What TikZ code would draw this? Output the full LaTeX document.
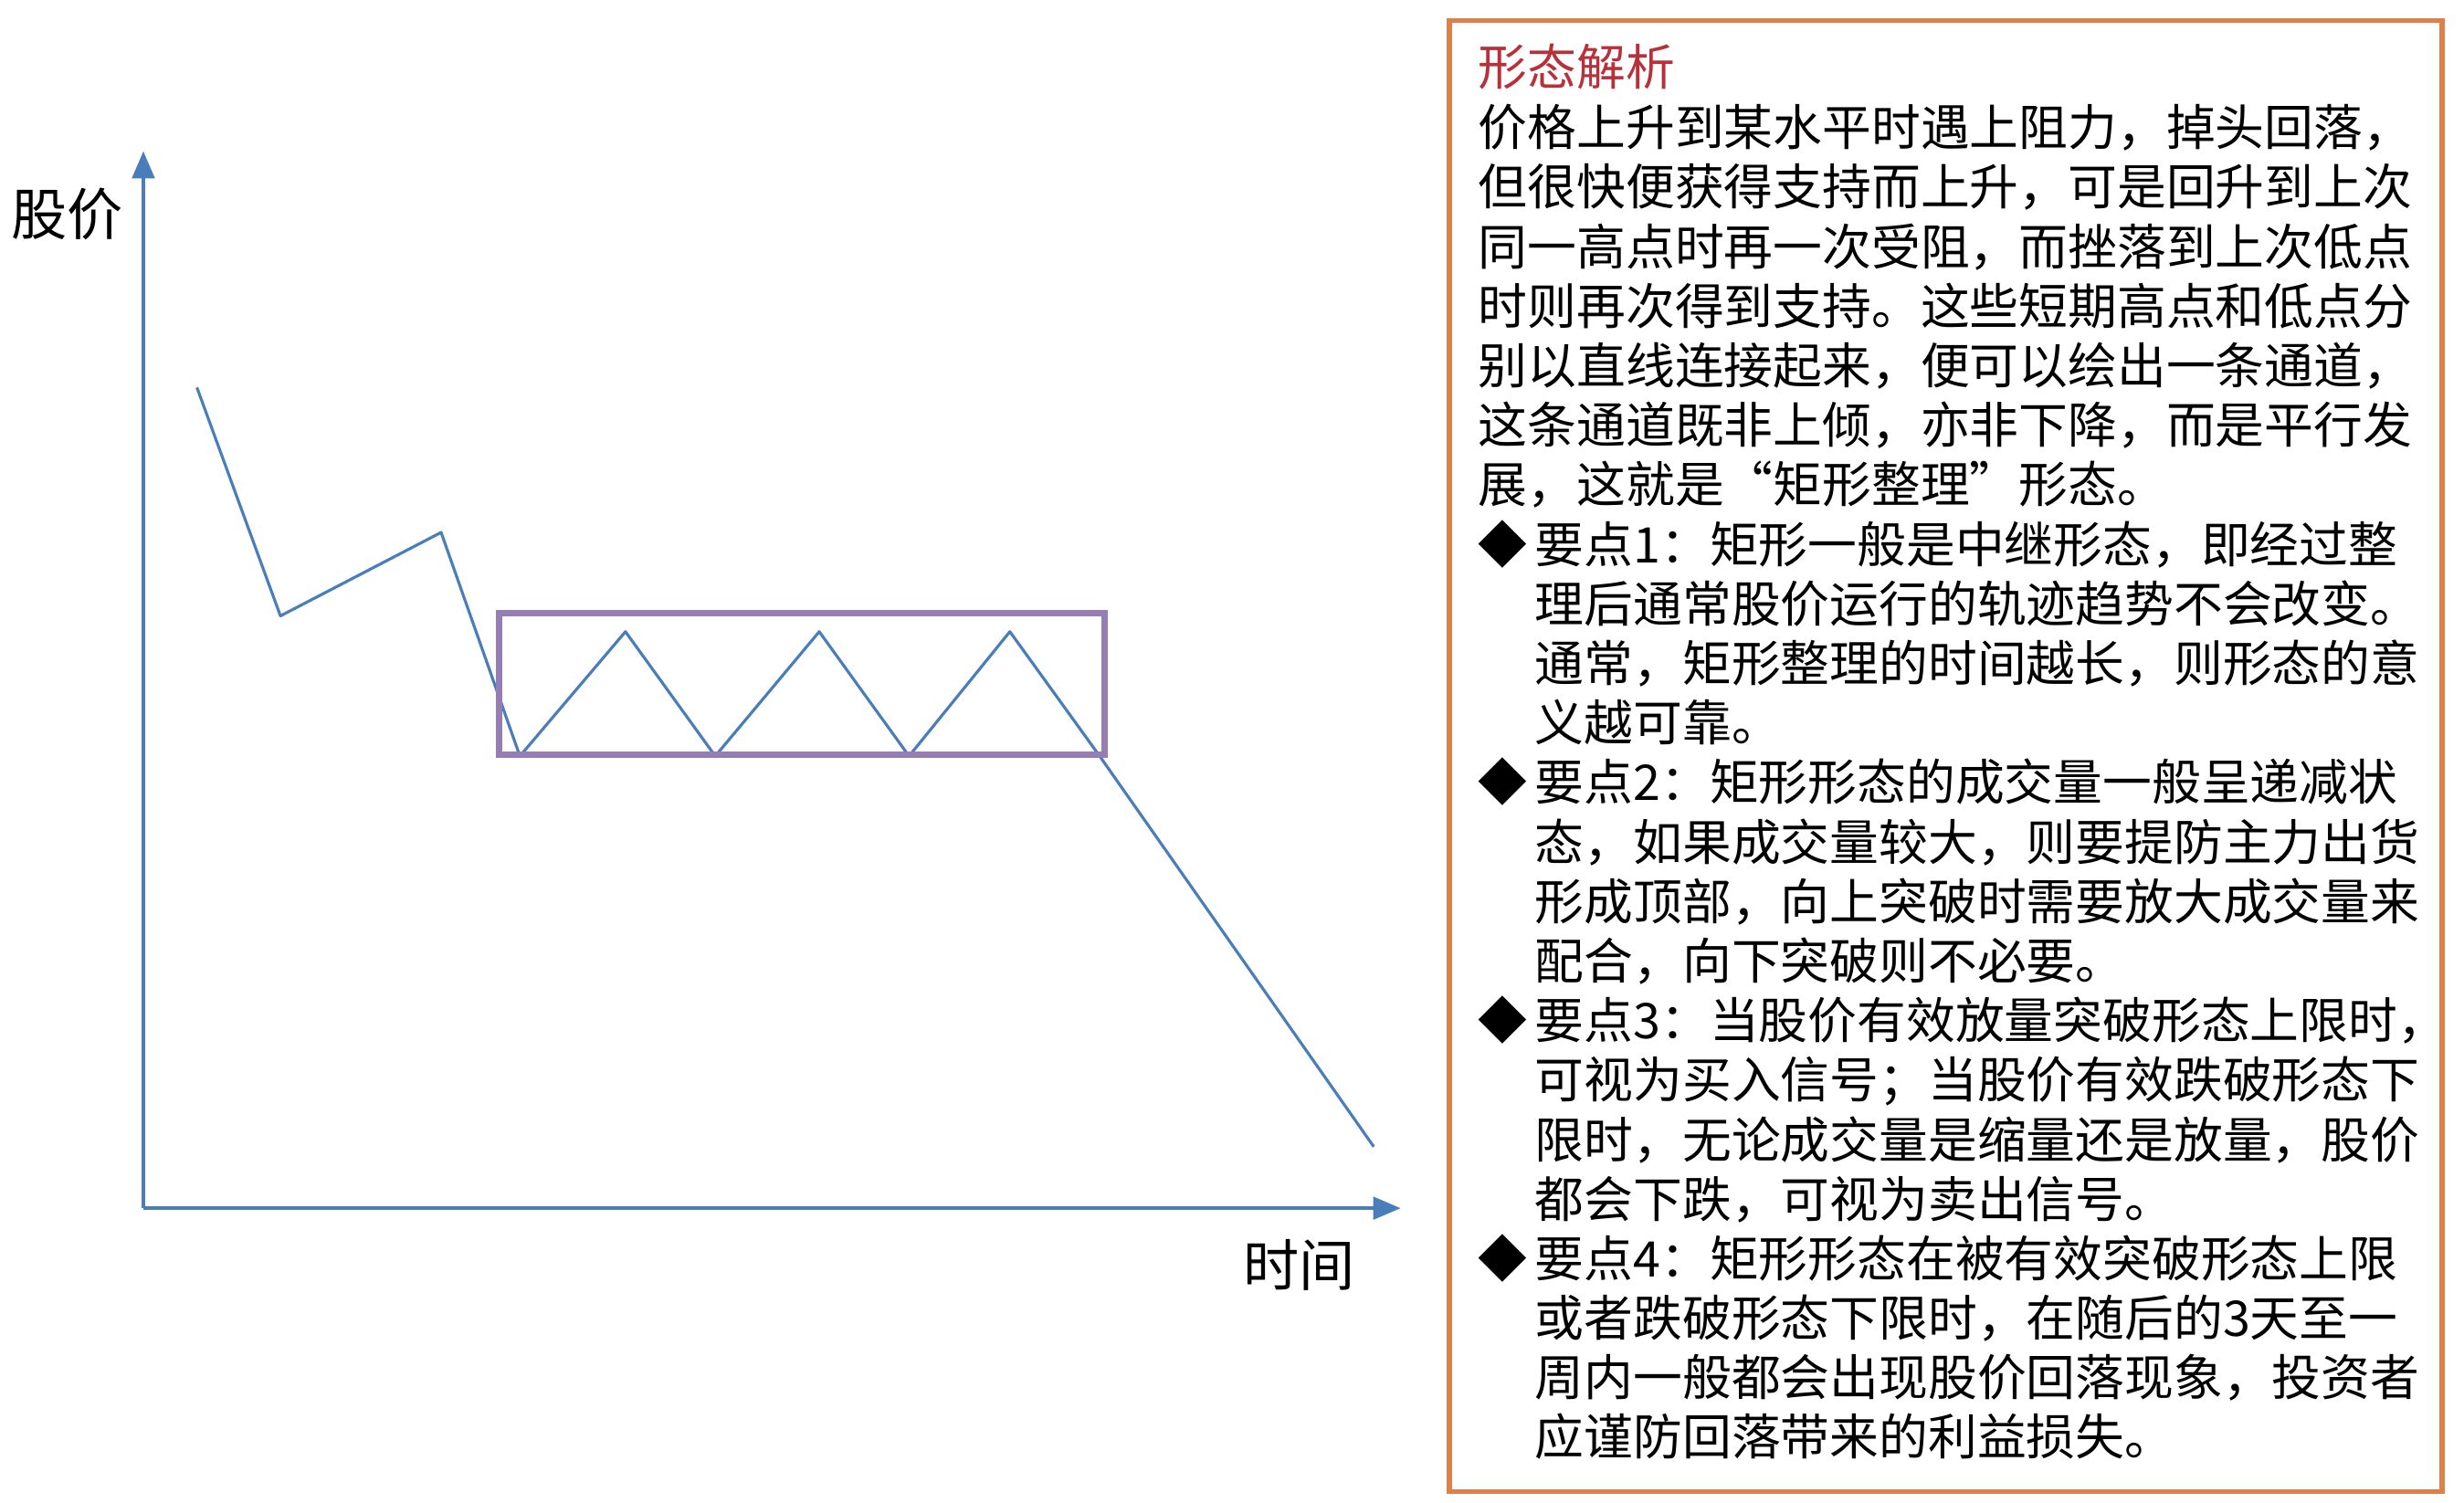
\documentclass[tikz,border=0pt]{standalone}
\usepackage{fontspec}
\setmainfont{Noto Sans CJK SC}
\usepackage{tikz}
\usetikzlibrary{positioning, arrows.meta}
\definecolor{axisblue}{RGB}{74,126,187}
\definecolor{boxpurple}{RGB}{150,125,180}
\definecolor{panelorange}{RGB}{222,128,74}
\definecolor{titlered}{RGB}{184,48,58}
\tikzstyle{axisline} = [draw=axisblue, line width=1pt, ->, >={Triangle[length=8.5pt,width=7pt]}]
\tikzstyle{priceline} = [draw=axisblue, line width=0.9pt, line join=round]
\tikzstyle{rangebox} = [draw=boxpurple, line width=2pt]
\tikzstyle{panelbox} = [draw=panelorange, line width=1.6pt]
\tikzstyle{axislabel} = [inner sep=0pt, font=\fontsize{17.4}{20}\selectfont]
\tikzstyle{bodytext} = [inner sep=0pt, align=left, anchor=base west, font=\fontsize{15.3}{18.54}\selectfont]
\newcommand{\keypt}{\makebox[0.62cm][l]{◆}}
\newcommand{\keyind}{\hspace*{0.62cm}}

\begin{document}
\begin{tikzpicture}[x=0.01725cm, y=-0.01725cm]

        \useasboundingbox (0,0) rectangle (1564,954);

        % Axes
        \coordinate (origin) at (91,767);
        \coordinate (ytip) at (91,96);
        \coordinate (xtip) at (889,767);
        \draw [axisline] (origin) -- (ytip);
        \draw [axisline] (origin) -- (xtip);
        \node (ylabel) [axislabel, anchor=west] at (7,136) {股价};
        \node (xlabel) [axislabel, anchor=west] at (789,803) {时间};

        % Prix
        \draw [priceline] (125,246) -- (178,391) -- (280,338) -- (330,480) -- (397,401) -- (454,480)
                      -- (520,401) -- (577,480) -- (641,401) -- (698,480) -- (872,728);

        % Rectangle de consolidation
        \draw [rangebox] (317,389) rectangle (701,479);

        % Cadre de texte (base = derniere ligne)
        \draw [panelbox] (920,13) rectangle (1550,947);
        \node (title) [bodytext, text=titlered] at (938,54) {形态解析};
        \node (body) [bodytext] at (938,924) {%
价格上升到某水平时遇上阻力，掉头回落，\\
但很快便获得支持而上升，可是回升到上次\\
同一高点时再一次受阻，而挫落到上次低点\\
时则再次得到支持。这些短期高点和低点分\\
别以直线连接起来，便可以绘出一条通道，\\
这条通道既非上倾，亦非下降，而是平行发\\
展，这就是“矩形整理”形态。\\
\keypt 要点1：矩形一般是中继形态，即经过整\\
\keyind 理后通常股价运行的轨迹趋势不会改变。\\
\keyind 通常，矩形整理的时间越长，则形态的意\\
\keyind 义越可靠。\\
\keypt 要点2：矩形形态的成交量一般呈递减状\\
\keyind 态，如果成交量较大，则要提防主力出货\\
\keyind 形成顶部，向上突破时需要放大成交量来\\
\keyind 配合，向下突破则不必要。\\
\keypt 要点3：当股价有效放量突破形态上限时，\\
\keyind 可视为买入信号；当股价有效跌破形态下\\
\keyind 限时，无论成交量是缩量还是放量，股价\\
\keyind 都会下跌，可视为卖出信号。\\
\keypt 要点4：矩形形态在被有效突破形态上限\\
\keyind 或者跌破形态下限时，在随后的3天至一\\
\keyind 周内一般都会出现股价回落现象，投资者\\
\keyind 应谨防回落带来的利益损失。};

    \end{tikzpicture}
\end{document}
